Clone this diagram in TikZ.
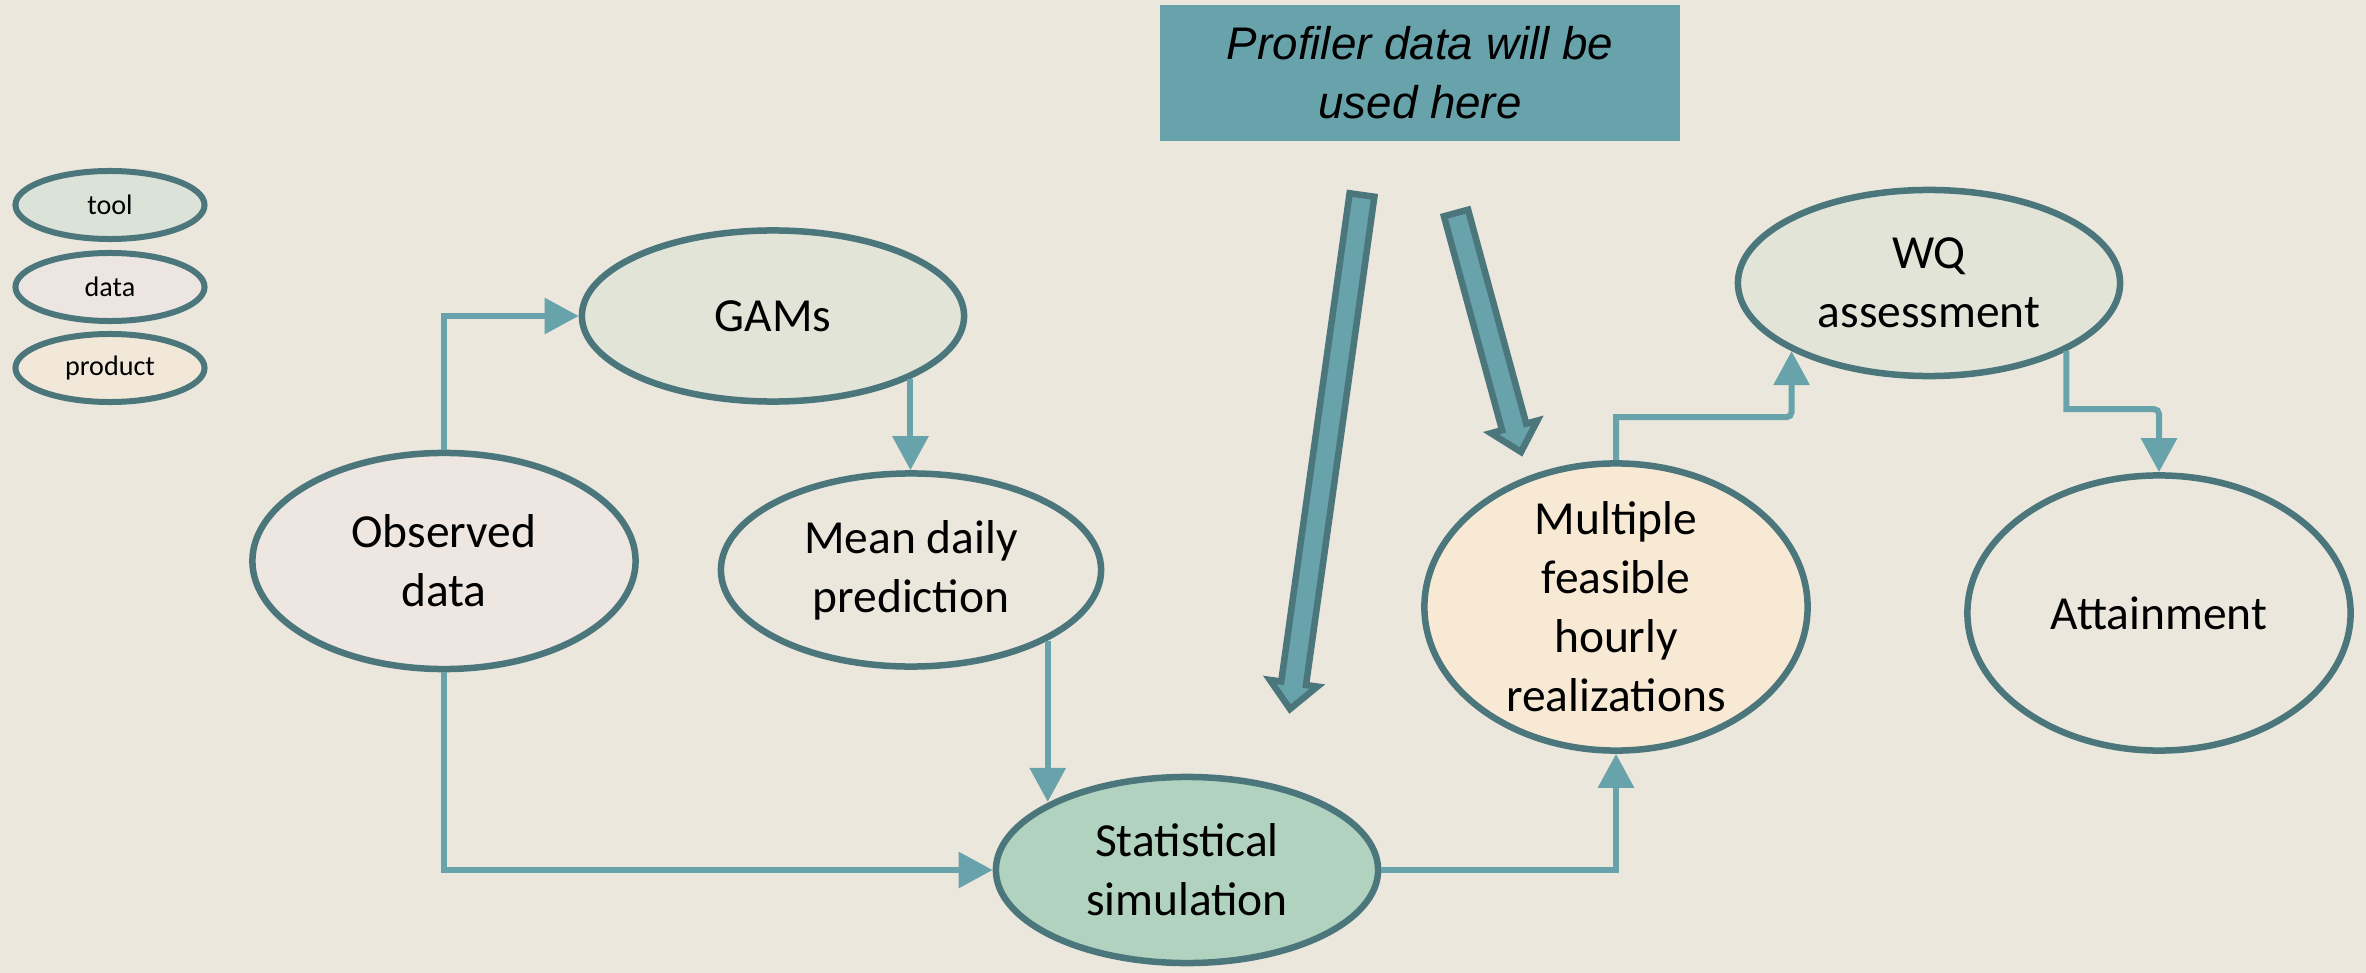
\documentclass[tikz,border=0pt]{standalone}
\usepackage{fontspec}
\setmainfont{Carlito}
\newfontfamily\bannerfont{Liberation Sans}
\usetikzlibrary{arrows.meta,calc,shapes.geometric}

\definecolor{paper}{HTML}{EBE7DD}
\definecolor{rim}{HTML}{4B767C}
\definecolor{linkteal}{HTML}{68A2AB}
\definecolor{toolfill}{HTML}{E2E4D8}
\definecolor{datafill}{HTML}{EEE6E0}
\definecolor{prodfill}{HTML}{F8E9D5}
\definecolor{simfill}{HTML}{B0D2BE}
\definecolor{keytoolfill}{HTML}{DBE2D7}
\definecolor{keydatafill}{HTML}{ECE5E1}
\definecolor{keyprodfill}{HTML}{F1E8DA}

\tikzset{
  blob/.style={ellipse, draw=rim, line width=0.65mm, inner sep=-1.5mm,
    align=center, font=\fontsize{13.5}{16.8}\selectfont},
  key/.style={ellipse, draw=rim, line width=0.6mm, inner sep=0pt,
    minimum width=1.89cm, minimum height=0.68cm, font=\fontsize{8}{9.6}\selectfont},
  link/.style={draw=linkteal, line width=0.6mm, -{Triangle[width=3.5mm,length=3.4mm]}},
  fat/.style={draw=rim, fill=linkteal, line width=0.65mm},
  banner/.style={fill=linkteal, minimum width=5.2cm, minimum height=1.36cm, align=center,
    font=\bannerfont\itshape\fontsize{13}{16.8}\selectfont}
}

\begin{document}
\begin{tikzpicture}[x=0.01cm,y=-0.01cm]
\fill[paper] (0,0) rectangle (2366,973);
\useasboundingbox (0,0) rectangle (2366,973);

% legend
\node[key, fill=keytoolfill] (keytool) at (110,205) {tool};
\node[key, fill=keydatafill] (keydata) at (110,287) {data};
\node[key, fill=keyprodfill] (keyprod) at (110,368) {product};

% main flow
\node[blob, fill=toolfill, minimum width=3.82cm, minimum height=1.71cm] (gams) at (773,316) {GAMs};
\node[blob, fill=datafill, minimum width=3.83cm, minimum height=2.16cm] (obs) at (444,561) {Observed\\data};
\node[blob, fill=paper, minimum width=3.80cm, minimum height=1.93cm] (mean) at (911,570) {Mean daily\\prediction};
\node[blob, fill=simfill, minimum width=3.82cm, minimum height=1.86cm] (stat) at (1187,870) {Statistical\\simulation};
\node[blob, fill=prodfill, minimum width=3.83cm, minimum height=2.87cm] (multi) at (1616,607) {Multiple\\feasible\\hourly\\realizations};
\node[blob, fill=toolfill, minimum width=3.82cm, minimum height=1.86cm] (wq) at (1929,283) {WQ\\assessment};
\node[blob, fill=paper, minimum width=3.83cm, minimum height=2.75cm] (attain) at (2159,613) {Attainment};

\node[banner] (note) at (1420,73) {Profiler data will be\\used here};

% connectors
\draw[link] (obs.north) |- (gams.west);
\draw[link] (gams.south east) -- (gams.south east |- mean.north);
\draw[link] (mean.south east) -- (mean.south east |- stat.north west);
\draw[link] (obs.south) |- (stat.west);
\draw[link] (stat.east) -| (multi.south);
\draw[link] (multi.north) -- ++(0,-43) [rounded corners=0.5mm] -| (wq.south west);
\draw[link] (wq.south east) -- ++(0,58) [rounded corners=0.5mm] -| (attain.north);

% profiler arrows
\coordinate (tailA) at (1362,195);
\coordinate (tipA) at (1290,709);
\coordinate (tailB) at (1456,213);
\coordinate (tipB) at (1521,452);
\foreach \n in {A,B} {
  \coordinate (base\n) at ($(tip\n)!2.6mm!(tail\n)$);
  \draw[fat] ($(tail\n)!1.25mm!90:(tip\n)$) -- ($(base\n)!1.25mm!90:(tip\n)$)
    -- ($(base\n)!2.4mm!90:(tip\n)$) -- (tip\n) -- ($(base\n)!2.4mm!-90:(tip\n)$)
    -- ($(base\n)!1.25mm!-90:(tip\n)$) -- ($(tail\n)!1.25mm!-90:(tip\n)$) -- cycle;
}
\end{tikzpicture}
\end{document}
